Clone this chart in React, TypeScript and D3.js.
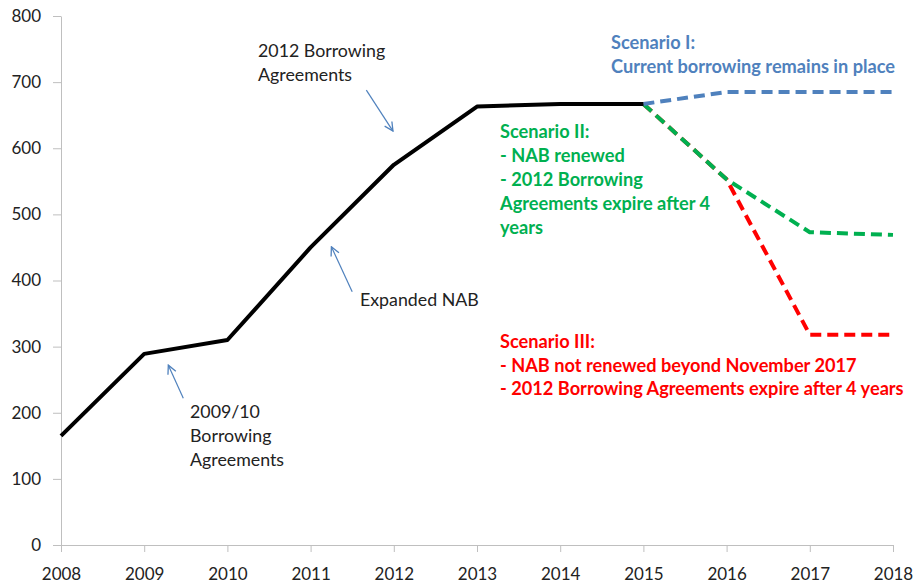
import React, { useEffect, useRef } from 'react';
import * as d3 from 'd3';

// values
const histYears = [2008, 2009, 2010, 2011, 2012, 2013, 2014, 2015];
const histValues = [165, 289, 310, 450, 575, 663, 667, 667];

const scenYears = [2015, 2016, 2017, 2018];
const scenarioI = [667, 685, 685, 685];
const scenarioII = [667, 553, 473, 469];
const scenarioIII = [667, 553, 318, 318];

const yTicks = [0, 100, 200, 300, 400, 500, 600, 700, 800];
const xTicks = [2008, 2009, 2010, 2011, 2012, 2013, 2014, 2015, 2016, 2017, 2018];

const BLUE = '#4f81bd';
const GREEN = '#00b050';
const RED = '#ff0000';
const FONT = 'Lato, "Open Sans", sans-serif';

const w = 917;
const h = 584;

function App() {
    const svgRef = useRef<SVGSVGElement>(null);

    const x = d3.scaleLinear().domain([2008, 2018]).range([61, 893]);
    const y = d3.scaleLinear().domain([0, 800]).range([545, 16]);

    useEffect(() => {
        const svg = d3.select(svgRef.current);
        svg.selectAll('*').remove();

        // arrow head
        svg.append('defs').append('marker')
            .attr('id', 'arr')
            .attr('viewBox', '0 0 10 10')
            .attr('refX', 9).attr('refY', 5)
            .attr('markerWidth', 9).attr('markerHeight', 9)
            .attr('orient', 'auto')
            .append('path')
            .attr('d', 'M1,1 L9,5 L1,9')
            .attr('fill', 'none')
            .attr('stroke', BLUE)
            .attr('stroke-width', 1.2);

        const yAxis = svg.append('g')
            .attr('transform', `translate(${x(2008)},0)`)
            .call(d3.axisLeft(y).tickValues(yTicks).tickSize(8).tickPadding(12).tickSizeOuter(0));
        const xAxis = svg.append('g')
            .attr('transform', `translate(0,${y(0)})`)
            .call(d3.axisBottom(x).tickValues(xTicks).tickFormat(d3.format('d')).tickSize(7).tickPadding(16).tickSizeOuter(0));

        [yAxis, xAxis].forEach(g => {
            g.selectAll('path, line').attr('stroke', '#bfbfbf');
            g.selectAll('text')
                .attr('fill', '#222')
                .style('font-family', FONT)
                .style('font-size', '17px');
        });

        const line = d3.line<number>()
            .x((d, i) => x(scenYears[i]))
            .y(d => y(d));
        const histLine = d3.line<number>()
            .x((d, i) => x(histYears[i]))
            .y(d => y(d));

        const dashed = (vals: number[], color: string) => svg.append('path')
            .attr('d', line(vals))
            .attr('fill', 'none')
            .attr('stroke', color)
            .attr('stroke-width', 4)
            .attr('stroke-dasharray', '11 6')
            .attr('stroke-linejoin', 'round');

        dashed(scenarioIII, RED);
        dashed(scenarioII, GREEN);
        dashed(scenarioI, BLUE);

        svg.append('path')
            .attr('d', histLine(histValues))
            .attr('fill', 'none')
            .attr('stroke', '#000')
            .attr('stroke-width', 4)
            .attr('stroke-linejoin', 'round');

        // annotation arrows, in data units [year, value]
        const arrows = [
            [[2011.67, 688], [2011.99, 626]],
            [[2011.5, 383], [2011.25, 451]],
            [[2009.47, 222], [2009.29, 272]],
        ];
        arrows.forEach(([a, b]) => {
            svg.append('line')
                .attr('x1', x(a[0])).attr('y1', y(a[1]))
                .attr('x2', x(b[0])).attr('y2', y(b[1]))
                .attr('stroke', BLUE)
                .attr('stroke-width', 1.2)
                .attr('marker-end', 'url(#arr)');
        });

        const notes = [
            { x: 258, y: 57, lines: ['2012 Borrowing', 'Agreements'], color: '#222', bold: false, lh: 24 },
            { x: 360, y: 306, lines: ['Expanded NAB'], color: '#222', bold: false, lh: 24 },
            { x: 190, y: 418, lines: ['2009/10', 'Borrowing', 'Agreements'], color: '#222', bold: false, lh: 24 },
            { x: 611, y: 49, lines: ['Scenario I:', 'Current borrowing remains in place'], color: BLUE, bold: true, lh: 24 },
            { x: 500, y: 138, lines: ['Scenario II:', '- NAB renewed', '- 2012 Borrowing', 'Agreements expire after 4', 'years'], color: GREEN, bold: true, lh: 24 },
            { x: 500, y: 348, lines: ['Scenario III:', '- NAB not renewed beyond November 2017', '- 2012 Borrowing Agreements expire after 4 years'], color: RED, bold: true, lh: 23.5 },
        ];
        notes.forEach(n => {
            const t = svg.append('text')
                .attr('x', n.x).attr('y', n.y)
                .attr('fill', n.color)
                .style('font-family', FONT)
                .style('font-size', n.bold ? '18.2px' : '17.8px')
                .style('font-weight', n.bold ? 700 : 400);
            n.lines.forEach((s, i) => {
                t.append('tspan').attr('x', n.x).attr('dy', i === 0 ? 0 : n.lh).text(s);
            });
        });
    }, []);

    return (
        <>
            <style>{'body{margin:0}'}</style>
            <svg ref={svgRef} width={w} height={h} style={{ display: 'block', background: '#fff' }}></svg>
        </>
    );
}

export default App;
